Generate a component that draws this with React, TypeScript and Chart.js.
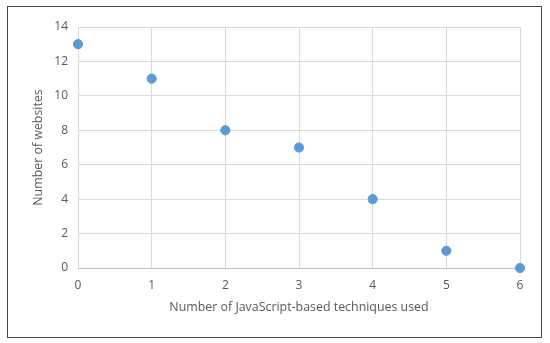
import React, { useEffect, useRef } from "react";
import { Chart, registerables } from "chart.js";

Chart.register(...registerables);

const techniques = [0, 1, 2, 3, 4, 5, 6];
const websites = [13, 11, 8, 7, 4, 1, 0];
const xTitle = "Number of JavaScript-based techniques used";
const yTitle = "Number of websites";

export default function App() {
  const ref = useRef<HTMLCanvasElement | null>(null);
  useEffect(() => {
    if (!ref.current) return;
    const font = { family: "'Open Sans', 'Noto Sans', sans-serif", size: 12 };
    const titleFont = { family: "'Open Sans', 'Noto Sans', sans-serif", size: 12.4 };
    const chart = new Chart(ref.current, {
      type: "scatter",
      data: {
        datasets: [
          {
            data: techniques.map((x, i) => ({ x, y: websites[i] })),
            backgroundColor: "#5b9bd5",
            borderColor: "#5b9bd5",
            pointRadius: 4.6,
            pointHoverRadius: 4.6,
            clip: false,
          } as any,
        ],
      },
      options: {
        animation: false,
        responsive: false,
        maintainAspectRatio: false,
        layout: { padding: { left: 27, right: 30, top: 27, bottom: 24 } },
        plugins: { legend: { display: false }, tooltip: { enabled: false } },
        scales: {
          x: {
            type: "linear",
            min: 0,
            max: 6,
            ticks: { stepSize: 1, color: "#595959", font, padding: 10 },
            grid: { color: "#d9d9d9", drawTicks: false },
            border: { display: true, color: "#bfbfbf" },
            title: { display: true, text: xTitle, color: "#595959", font: titleFont, padding: 4 },
            afterFit: (s: any) => {
              s.height = 51;
            },
          },
          y: {
            min: 0,
            max: 14,
            ticks: { stepSize: 2, color: "#595959", font, padding: 10 },
            grid: { color: "#d9d9d9", drawTicks: false },
            border: { display: false },
            title: { display: true, text: yTitle, color: "#595959", font: titleFont, padding: 4 },
            afterFit: (s: any) => {
              s.width = 51;
            },
          },
        },
      },
    });
    return () => chart.destroy();
  }, []);
  return (
    <div style={{ position: "absolute", left: 0, top: 0, width: 550, height: 343, background: "#fff" }}>
      <canvas ref={ref} width={550} height={343} style={{ position: "absolute", left: 0, top: 0 }} />
      <div
        style={{
          position: "absolute",
          left: 7,
          top: 6,
          width: 535,
          height: 332,
          boxSizing: "border-box",
          border: "1.5px solid #4a4a4a",
          pointerEvents: "none",
        }}
      />
    </div>
  );
}
